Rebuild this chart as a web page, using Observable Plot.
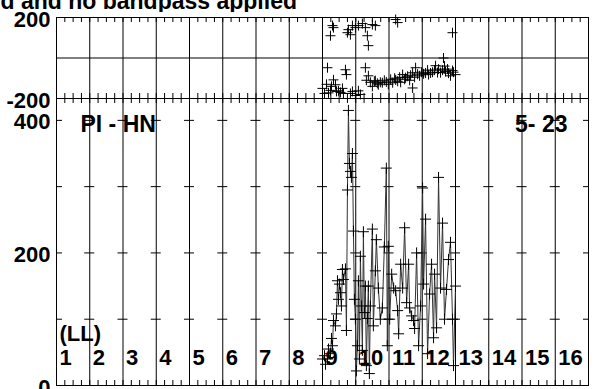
<!DOCTYPE html>
<html><head><meta charset="utf-8">
<script src="https://cdn.jsdelivr.net/npm/d3@7"></script>
<script src="https://cdn.jsdelivr.net/npm/@observablehq/plot@0.6"></script>
<style>
html,body{margin:0;padding:0;background:#fff;}
#wrap{position:relative;width:595px;height:389px;overflow:hidden;font-family:"Liberation Sans",Arial,sans-serif;}
#title{position:absolute;left:0;top:0;width:595px;height:12px;overflow:hidden;}
#title span{position:absolute;right:298px;top:-10px;font-size:23px;font-weight:bold;line-height:23px;white-space:nowrap;color:#000;}
#phase{position:absolute;left:0;top:12px;}
#amp{position:absolute;left:0;top:98px;}
svg{overflow:visible;background:none !important;}
</style></head><body>
<div id="wrap"><div id="title"><span>d and no bandpass applied</span></div><div id="amp"></div><div id="phase"></div></div>
<script>
// ---- data (time in grid units 0..16) ----
const ampTime = [8.00,8.06,8.09,8.15,8.18,8.24,8.27,8.30,8.33,8.39,8.42,8.45,8.48,8.51,8.54,8.57,8.60,8.63,8.69,8.72,8.75,8.78,8.81,8.84,8.87,8.90,8.93,8.96,8.99,9.02,9.05,9.08,9.11,9.14,9.17,9.20,9.23,9.26,9.29,9.32,9.35,9.38,9.41,9.44,9.50,9.53,9.59,9.62,9.68,9.74,9.80,9.86,9.92,9.95,9.98,10.02,10.08,10.14,10.20,10.26,10.29,10.35,10.41,10.47,10.53,10.59,10.62,10.68,10.74,10.77,10.83,10.89,10.95,11.01,11.04,11.10,11.16,11.22,11.28,11.34,11.37,11.43,11.49,11.55,11.61,11.67,11.73,11.79,11.85,11.91,11.94,12.00];
const ampValue = [40,45,32,40,55,48,71,60,98,90,108,158,130,153,140,120,175,160,176,83,295,415,335,323,314,350,233,130,100,22,60,158,40,195,120,53,232,110,150,30,101,150,18,120,236,90,173,220,147,100,117,209,328,60,210,100,168,147,143,113,78,183,147,238,125,183,117,105,98,86,200,60,120,298,153,251,48,138,183,72,168,87,314,147,245,100,145,190,216,100,30,150];
const phaseTime = [8.24,8.30,8.33,8.75,8.78,8.84,8.90,8.99,9.08,9.20,9.29,9.35,9.38,9.50,9.59,10.20,10.26,11.91,
  8.00,8.06,8.12,8.15,8.18,8.24,8.27,8.33,8.39,8.42,8.48,8.54,8.60,8.63,8.69,8.72,8.84,8.90,8.99,9.08,9.14,9.29,9.32,9.38,9.44,9.50,9.56,9.59,9.65,9.68,9.74,9.80,9.86,9.92,9.98,10.05,10.11,10.17,10.20,10.26,10.32,10.35,10.41,10.47,10.50,10.56,10.62,10.65,10.71,10.71,10.77,10.80,10.86,10.92,10.98,11.04,11.10,11.16,11.19,11.25,11.31,11.37,11.40,11.46,11.49,11.55,11.61,11.64,11.67,11.70,11.76,11.79,11.85,11.91,11.94,12.00];
const phaseValue = [110,160,150,125,140,115,160,150,160,170,150,110,61,165,160,190,175,125,
  -150,-175,-130,-48,-172,-160,-140,-108,-132,-165,-162,-170,-150,-175,-58,-82,-175,-165,-185,-162,-180,-48,-110,-88,-120,-140,-115,-112,-125,-132,-120,-122,-110,-118,-130,-105,-122,-100,-108,-115,-95,-120,-82,-105,-97,-90,-110,-85,-73,-148,-95,-48,-80,-88,-70,-78,-74,-60,-82,-74,-70,-60,-38,-72,-55,-72,-60,0,-40,-67,-55,-75,-88,-62,-70,-82];
const channelLabels = ["1","2","3","4","5","6","7","8","9","10","11","12","13","14","15","16"];
const phaseTicks = [-200, 200];
const ampTicks = [0, 200, 400];
const ampCrossTicks = [100, 200, 300, 400];
const baselineLabel = "PI - HN";
const idLabel = "5- 23";
const polLabel = "(LL)";

const ampData = ampTime.map((t, i) => ({t, v: ampValue[i]}));
const phaseData = phaseTime.map((t, i) => ({t, v: phaseValue[i]}));

const gridX = d3.range(0, 17);
const minorX = d3.range(0, 65).map(i => i / 4);
const cross = {draw(ctx, size) { const r = Math.sqrt(size / Math.PI); ctx.moveTo(-r, 0); ctx.lineTo(r, 0); ctx.moveTo(0, -r); ctx.lineTo(0, r); }};
const style = {fontFamily: "'Liberation Sans', Arial, sans-serif", fontSize: "22px", fontWeight: "bold", color: "#000", background: "none", overflow: "visible"};
const fmt = d => String(d);

const phasePlot = Plot.plot({
  width: 595, height: 86, marginLeft: 56, marginRight: 7, marginTop: 5, marginBottom: 0,
  x: {domain: [0, 16], axis: null},
  y: {domain: [-200, 200], axis: null},
  style,
  marks: [
    Plot.ruleX(gridX, {stroke: "#000", strokeWidth: 1}),
    Plot.ruleY([0], {stroke: "#000"}),
    Plot.ruleX(minorX, {x: d => d, y1: 200, y2: 200, insetBottom: -5, stroke: "#000"}),
    Plot.ruleX(minorX, {x: d => d, y1: -200, y2: -200, insetTop: -5, stroke: "#000"}),
    Plot.frame({stroke: "#000"}),
    Plot.axisY({ticks: phaseTicks, tickFormat: fmt, label: null, tickSize: 0, tickPadding: 6, fontSize: 22, fontWeight: "bold", dy: 2}),
    Plot.dot(phaseData, {x: "t", y: "v", symbol: cross, r: 5, fill: "none", stroke: "#000", strokeWidth: 1})
  ]
});
document.getElementById("phase").append(phasePlot);

const ampPlot = Plot.plot({
  width: 595, height: 291, marginLeft: 56, marginRight: 7, marginTop: 0, marginBottom: 4,
  x: {domain: [0, 16], axis: null},
  y: {domain: [0, 433], axis: null},
  style,
  marks: [
    Plot.ruleX(gridX, {stroke: "#000", strokeWidth: 1}),
    Plot.ruleX(minorX, {x: d => d, y1: 433, y2: 433, insetBottom: -5, stroke: "#000"}),
    Plot.ruleX(minorX, {x: d => d, y1: 0, y2: 0, insetTop: -5, stroke: "#000"}),
    Plot.ruleY(gridX.slice(1, 16).flatMap(x => ampCrossTicks.map(y => ({x, y}))), {y: "y", x1: "x", x2: "x", insetLeft: -5, insetRight: -5, stroke: "#000"}),
    Plot.ruleY(ampCrossTicks, {y: d => d, x1: 0, x2: 0, insetRight: -6, stroke: "#000"}),
    Plot.ruleY(ampCrossTicks, {y: d => d, x1: 16, x2: 16, insetLeft: -5, stroke: "#000"}),
    Plot.frame({stroke: "#000"}),
    Plot.axisY({ticks: ampTicks, tickFormat: fmt, label: null, tickSize: 0, tickPadding: 6, fontSize: 22, fontWeight: "bold", dy: 2}),
    Plot.text(channelLabels, {x: (d, i) => i, text: d => d, frameAnchor: "bottom", textAnchor: "start", lineAnchor: "bottom", dx: 3, dy: -21, fontSize: 22, fontWeight: "bold", fill: "#000"}),
    Plot.text([polLabel], {x: 0, text: d => d, frameAnchor: "bottom", textAnchor: "start", lineAnchor: "bottom", dx: 3, dy: -45, fontSize: 22, fontWeight: "bold", fill: "#000"}),
    Plot.text([baselineLabel], {text: d => d, frameAnchor: "top-left", textAnchor: "start", lineAnchor: "top", dx: 24, dy: 17, fontSize: 23, fontWeight: "bold", fill: "#000"}),
    Plot.text([idLabel], {text: d => d, frameAnchor: "top-right", textAnchor: "end", lineAnchor: "top", dx: -21, dy: 17, fontSize: 23, fontWeight: "bold", fill: "#000"}),
    Plot.line(ampData, {x: "t", y: "v", stroke: "#333", strokeWidth: 1}),
    Plot.dot(ampData, {x: "t", y: "v", symbol: cross, r: 5.5, fill: "none", stroke: "#000", strokeWidth: 1})
  ]
});
document.getElementById("amp").append(ampPlot);
</script>
</body></html>
